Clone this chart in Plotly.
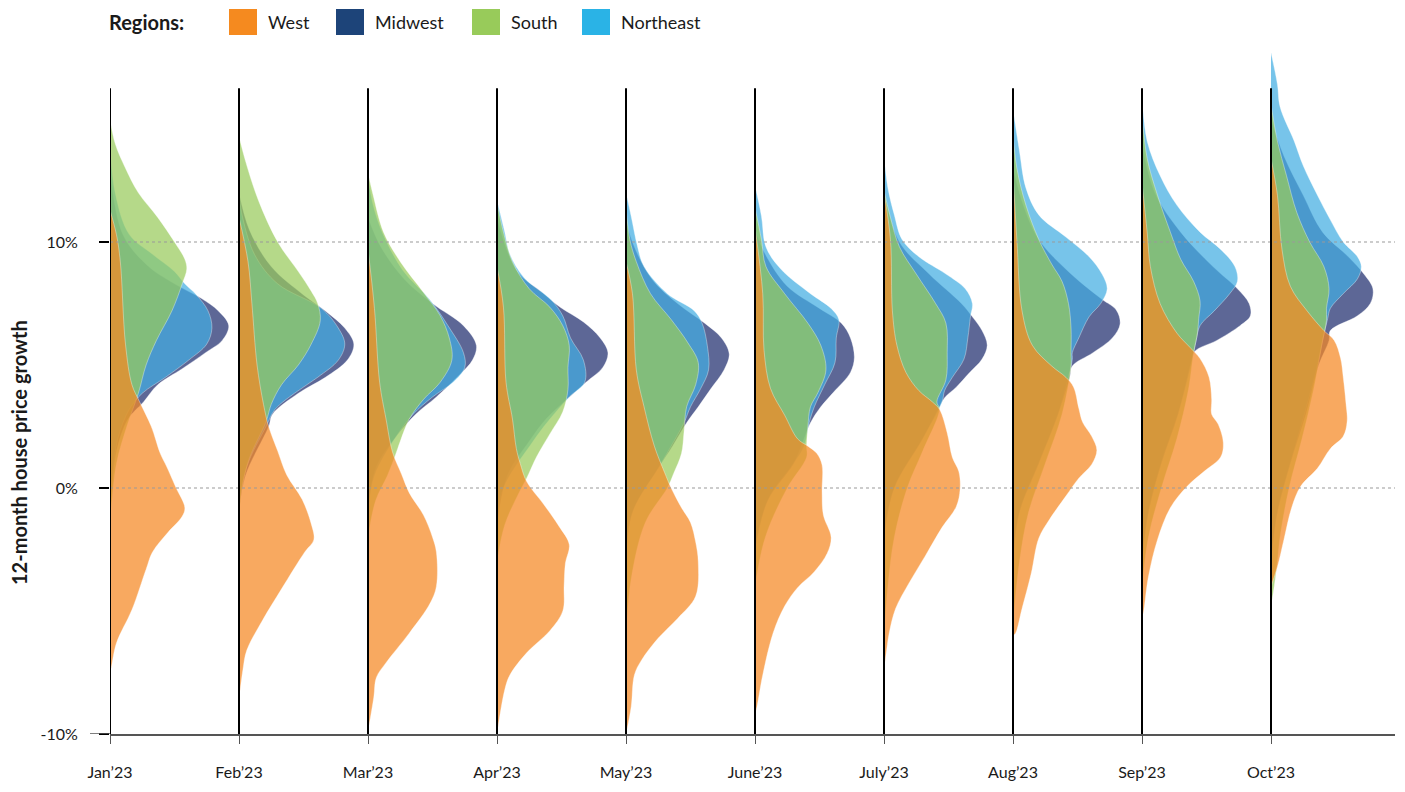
import plotly.graph_objects as go

# ---------------- data ----------------
months = ["Jan\u201923", "Feb\u201923", "Mar\u201923", "Apr\u201923", "May\u201923",
          "June\u201923", "July\u201923", "Aug\u201923", "Sep\u201923", "Oct\u201923"]
regions = ["Midwest", "Northeast", "South", "West"]          # drawing order (bottom -> top)
legend_order = ["West", "Midwest", "South", "Northeast"]
y_ticks = [-10, 0, 10]
y_tick_text = ["-10%", "0%", "10%"]

# density profiles: (12-month growth %, relative density width)
west = [
    [(-7.5,0),(-7.3,0.01),(-6.3,0.05),(-4.95,0.17),(-3.3,0.28),(-2.6,0.33),(-1.8,0.45),(-1.15,0.56),(-0.8,0.58),(0.03,0.51),(0.86,0.44),(1.4,0.39),(2.5,0.32),(3.5,0.23),(4.2,0.17),(5.85,0.12),(9.2,0.08),(10.3,0.05),(11.3,0)],
    [(-8.6,0),(-7.4,0.03),(-6.6,0.06),(-5.4,0.18),(-4.1,0.33),(-2.6,0.51),(-2.1,0.58),(-1.46,0.56),(-0.47,0.49),(0.53,0.37),(1.5,0.30),(2.5,0.23),(3.4,0.19),(5.0,0.14),(7.5,0.10),(9.2,0.07),(11.0,0)],
    [(-9.9,0),(-8.5,0.045),(-7.7,0.065),(-7.1,0.14),(-5.9,0.32),(-4.7,0.48),(-4.0,0.53),(-2.6,0.53),(-2.0,0.50),(-1.1,0.43),(-0.2,0.32),(0.56,0.26),(1.46,0.19),(2.8,0.14),(4.3,0.09),(7.3,0.05),(9.7,0)],
    [(-10,0),(-8.2,0.06),(-7.6,0.10),(-6.7,0.23),(-5.8,0.41),(-5.0,0.51),(-3.97,0.52),(-3.06,0.53),(-2.3,0.56),(-1.55,0.48),(-0.65,0.36),(0.26,0.23),(1.0,0.18),(1.6,0.15),(2.8,0.12),(4.3,0.07),(7.35,0.05),(9.0,0)],
    [(-10,0),(-8.9,0.04),(-7.6,0.065),(-7.0,0.12),(-6.1,0.25),(-5.3,0.40),(-4.4,0.54),(-3.0,0.56),(-2.2,0.54),(-1.4,0.50),(-0.8,0.43),(0,0.35),(0.62,0.30),(1.7,0.22),(3.3,0.14),(4.8,0.08),(7.9,0.05),(9.2,0)],
    [(-9.2,0),(-8.9,0.015),(-7.6,0.06),(-5.9,0.14),(-4.8,0.23),(-4.05,0.33),(-3.4,0.46),(-2.65,0.56),(-2.0,0.59),(-1.1,0.53),(-0.16,0.52),(0.93,0.52),(1.4,0.48),(1.7,0.41),(2.0,0.33),(2.96,0.23),(4.05,0.12),(5.6,0.07),(7.9,0.06),(10.6,0)],
    [(-7.4,0),(-6.6,0.02),(-5.9,0.04),(-4.9,0.09),(-3.9,0.19),(-2.76,0.32),(-1.6,0.45),(-0.76,0.56),(-0.04,0.59),(0.67,0.58),(1.24,0.53),(2.24,0.49),(3.2,0.43),(3.5,0.375),(3.96,0.27),(4.7,0.17),(5.8,0.10),(7.2,0.065),(10.1,0.05),(12.0,0)],
    [(-6.0,0),(-5.9,0.02),(-4.9,0.07),(-3.5,0.14),(-2.04,0.20),(-1.3,0.28),(-0.33,0.41),(0.4,0.51),(0.96,0.61),(1.53,0.65),(2.1,0.61),(2.67,0.54),(3.24,0.51),(4.1,0.47),(4.5,0.41),(4.96,0.30),(5.8,0.15),(7.2,0.07),(10.1,0.03),(12.8,0)],
    [(-5.3,0),(-5.0,0.013),(-3.6,0.05),(-2.1,0.12),(-0.8,0.22),(0.07,0.35),(0.67,0.48),(1.26,0.61),(1.85,0.63),(2.6,0.59),(3.0,0.54),(3.6,0.54),(4.5,0.52),(5.26,0.45),(5.7,0.375),(6.3,0.27),(7.5,0.14),(9.0,0.065),(10.4,0.04),(12.4,0)],
    [(-4.0,0),(-3.2,0.05),(-2.1,0.10),(-0.8,0.16),(0.07,0.23),(0.8,0.36),(1.6,0.46),(2.1,0.56),(2.7,0.59),(3.5,0.58),(4.5,0.56),(5.26,0.54),(6.0,0.49),(6.4,0.41),(7.2,0.28),(8.2,0.15),(9.7,0.085),(11.9,0.05),(13.4,0)],
]
south = [
    [(-1.2,0),(-0.5,0.015),(1.0,0.05),(2.5,0.13),(3.85,0.22),(5.0,0.28),(6.0,0.36),(7.2,0.48),(8.3,0.56),(8.9,0.595),(9.3,0.58),(10.0,0.50),(11.0,0.37),(12.0,0.22),(13.0,0.12),(14.0,0.04),(15.0,0)],
    [(-1.5,0),(-0.1,0.02),(1.2,0.08),(2.7,0.21),(3.4,0.25),(4.2,0.33),(5.0,0.46),(5.85,0.56),(6.8,0.63),(7.5,0.61),(8.0,0.56),(8.8,0.46),(10.0,0.30),(11.7,0.15),(13.3,0.05),(14.3,0)],
    [(-2.0,0),(-0.5,0.06),(0.5,0.15),(1.3,0.21),(1.9,0.25),(2.8,0.32),(3.6,0.43),(4.3,0.56),(5.2,0.65),(6.1,0.63),(7.0,0.56),(7.95,0.43),(9.2,0.25),(10.4,0.12),(11.9,0.04),(12.8,0)],
    [(-3.0,0),(-1.5,0.06),(-0.2,0.17),(0.4,0.23),(1.3,0.31),(2.2,0.41),(3.1,0.51),(4.0,0.55),(4.9,0.55),(5.8,0.56),(6.6,0.51),(7.35,0.41),(8.1,0.25),(9.2,0.12),(10.4,0.05),(11.6,0)],
    [(-6.0,0),(-3.7,0.04),(-1.4,0.15),(0,0.32),(0.6,0.37),(1.4,0.43),(2.3,0.45),(3.3,0.47),(4.2,0.54),(5.1,0.56),(5.9,0.48),(6.85,0.35),(7.9,0.19),(9.2,0.08),(10.1,0.03),(11.4,0)],
    [(-4.0,0),(-2.0,0.08),(0,0.25),(1.25,0.40),(1.7,0.40),(2.5,0.41),(3.3,0.43),(3.9,0.49),(4.8,0.55),(5.8,0.51),(6.7,0.41),(7.9,0.23),(9.0,0.085),(10.1,0.05),(11.4,0)],
    [(-6.0,0),(-4.0,0.03),(-2.0,0.08),(0,0.18),(1.5,0.30),(3.2,0.43),(3.5,0.41),(4.4,0.48),(5.5,0.49),(6.7,0.48),(7.5,0.40),(8.7,0.25),(9.8,0.12),(11.0,0.05),(12.1,0)],
    [(-5.5,0),(-3.0,0.05),(-1.0,0.12),(1.0,0.25),(3.0,0.38),(4.96,0.45),(5.5,0.45),(6.5,0.45),(7.5,0.43),(8.4,0.38),(9.1,0.30),(10.1,0.20),(11.5,0.10),(13.0,0.03),(14.4,0)],
    [(-4.0,0),(-2.0,0.05),(0,0.15),(2.0,0.27),(4.0,0.36),(5.5,0.40),(6.3,0.43),(6.9,0.44),(7.6,0.45),(8.4,0.40),(9.3,0.30),(10.4,0.22),(11.9,0.12),(13.4,0.04),(15.2,0)],
    [(-4.8,0),(-4.0,0.025),(-3.0,0.05),(-2.0,0.07),(0,0.14),(2.0,0.24),(4.0,0.33),(6.0,0.40),(6.8,0.43),(7.3,0.43),(8.1,0.45),(9.0,0.41),(10.0,0.30),(11.2,0.20),(12.7,0.12),(14.1,0.05),(15.6,0)],
]
northeast = [
    [(-0.5,0),(0.5,0.02),(2.0,0.06),(3.2,0.15),(3.85,0.25),(4.5,0.43),(5.2,0.61),(5.85,0.75),(6.5,0.79),(7.2,0.76),(7.85,0.67),(8.3,0.58),(8.8,0.50),(9.5,0.33),(10.3,0.15),(12.0,0.04),(14.1,0)],
    [(-0.8,0),(0.86,0.06),(2.5,0.21),(3.2,0.28),(3.85,0.43),(4.5,0.61),(5.2,0.77),(5.85,0.82),(6.5,0.77),(7.3,0.64),(8.3,0.30),(9.5,0.12),(11.2,0.02),(12.0,0)],
    [(-1.0,0),(0.5,0.05),(2.1,0.22),(3.0,0.35),(3.7,0.50),(4.3,0.66),(4.9,0.75),(5.5,0.74),(6.6,0.62),(7.65,0.48),(8.85,0.27),(10.4,0.11),(11.5,0.04),(12.6,0)],
    [(-1.4,0),(0.0,0.05),(1.9,0.28),(2.8,0.41),(3.7,0.56),(4.3,0.68),(5.2,0.67),(6.1,0.57),(7.0,0.51),(7.65,0.42),(8.55,0.21),(9.5,0.10),(10.4,0.06),(11.7,0)],
    [(-3.0,0),(-1.0,0.05),(0.8,0.25),(1.7,0.35),(2.65,0.45),(3.3,0.50),(4.05,0.58),(4.8,0.64),(5.8,0.63),(6.7,0.59),(7.2,0.53),(7.9,0.32),(9.0,0.14),(9.8,0.09),(11.05,0.04),(12.0,0)],
    [(-2.5,0),(-0.5,0.10),(1.0,0.30),(1.7,0.38),(2.65,0.42),(3.3,0.46),(4.2,0.54),(5.1,0.62),(6.1,0.63),(6.85,0.65),(7.3,0.59),(7.9,0.43),(8.9,0.20),(9.8,0.085),(11.05,0.05),(12.3,0)],
    [(-2.0,0),(0,0.08),(2.0,0.30),(3.5,0.45),(3.96,0.47),(4.5,0.53),(5.24,0.62),(6.1,0.65),(6.96,0.67),(7.5,0.685),(8.1,0.63),(8.7,0.48),(9.4,0.27),(10.1,0.14),(11.1,0.08),(12.2,0.03),(13.5,0)],
    [(-3.0,0),(-1.0,0.05),(1.0,0.20),(3.0,0.35),(4.5,0.43),(5.24,0.46),(5.5,0.46),(6.1,0.51),(6.96,0.59),(7.5,0.68),(8.1,0.73),(8.7,0.69),(9.4,0.59),(10.2,0.41),(11.1,0.20),(12.2,0.10),(13.7,0.05),(15.4,0)],
    [(-3.0,0),(-1.0,0.05),(1.0,0.15),(3.0,0.28),(5.0,0.38),(6.0,0.42),(6.6,0.45),(7.2,0.56),(7.9,0.68),(8.4,0.74),(9.0,0.72),(9.7,0.61),(10.4,0.45),(11.5,0.27),(12.7,0.14),(14.1,0.04),(15.9,0)],
    [(-3.0,0),(-1.0,0.05),(1.0,0.15),(3.0,0.26),(5.0,0.36),(6.0,0.40),(6.9,0.44),(7.3,0.46),(7.9,0.56),(8.5,0.67),(9.0,0.70),(9.4,0.67),(10.0,0.56),(10.9,0.46),(11.9,0.36),(13.1,0.25),(14.1,0.18),(15.5,0.07),(16.4,0.05),(17.7,0)],
]
midwest = [
    [(-1.0,0),(0.0,0.015),(1.5,0.05),(2.8,0.14),(3.5,0.26),(4.2,0.37),(4.85,0.56),(5.5,0.74),(6.0,0.87),(6.6,0.92),(7.2,0.84),(7.7,0.71),(8.3,0.50),(9.0,0.30),(10.3,0.10),(13.0,0)],
    [(-1.0,0),(0.5,0.05),(2.5,0.23),(3.0,0.26),(3.85,0.46),(4.5,0.67),(5.2,0.84),(5.85,0.89),(6.5,0.82),(7.2,0.67),(7.85,0.50),(9.0,0.25),(10.5,0.08),(12.0,0)],
    [(-1.0,0),(0.8,0.06),(2.1,0.22),(3.0,0.37),(3.7,0.53),(4.6,0.71),(5.2,0.81),(5.8,0.84),(6.6,0.74),(7.5,0.50),(8.5,0.28),(9.8,0.10),(11.0,0)],
    [(-1.5,0),(0.5,0.08),(1.9,0.25),(2.8,0.38),(3.6,0.54),(4.3,0.69),(4.9,0.82),(5.5,0.86),(6.1,0.80),(6.75,0.67),(7.35,0.49),(7.95,0.35),(8.85,0.15),(11.0,0)],
    [(-3.0,0),(-1.0,0.05),(0.8,0.25),(1.7,0.36),(2.65,0.47),(3.3,0.56),(4.05,0.66),(4.8,0.76),(5.45,0.80),(6.1,0.74),(6.7,0.61),(7.5,0.40),(8.5,0.20),(10.0,0.05),(11.0,0)],
    [(-2.5,0),(-0.5,0.10),(1.0,0.30),(2.0,0.38),(2.65,0.43),(3.3,0.51),(3.9,0.61),(4.7,0.74),(5.3,0.77),(6.1,0.74),(6.7,0.67),(7.3,0.50),(8.2,0.25),(9.5,0.08),(10.5,0)],
    [(-2.0,0),(0,0.08),(2.0,0.30),(3.2,0.42),(3.67,0.47),(4.1,0.56),(4.67,0.66),(5.24,0.76),(5.8,0.80),(6.4,0.76),(6.96,0.685),(7.5,0.60),(8.7,0.35),(10.0,0.12),(12.0,0)],
    [(-3.0,0),(-1.0,0.05),(1.0,0.20),(3.0,0.35),(4.5,0.44),(4.96,0.46),(5.5,0.62),(6.1,0.77),(6.67,0.83),(7.24,0.80),(7.67,0.69),(8.7,0.45),(10.1,0.20),(11.5,0.08),(13.0,0)],
    [(-3.0,0),(-1.0,0.05),(1.0,0.15),(3.0,0.28),(5.1,0.38),(5.56,0.41),(6.0,0.58),(6.6,0.76),(7.0,0.84),(7.5,0.83),(8.1,0.74),(9.0,0.55),(10.4,0.30),(12.0,0.10),(14.0,0)],
    [(-3.0,0),(-1.0,0.05),(1.0,0.15),(3.0,0.27),(5.0,0.37),(6.0,0.45),(6.4,0.46),(7.0,0.67),(7.5,0.77),(8.1,0.79),(8.7,0.72),(9.4,0.60),(10.4,0.40),(11.9,0.25),(13.5,0.10),(15.0,0)],
]

# ---------------- styling ----------------
profiles = {"West": west, "South": south, "Northeast": northeast, "Midwest": midwest}
solid = {"West": "#F58A1F", "Midwest": "#1D4479", "South": "#98CB5A", "Northeast": "#2AB3E6"}
fills = {"West": "rgba(245,136,34,0.72)", "Midwest": "rgba(31,44,110,0.72)",
         "South": "rgba(152,202,92,0.72)", "Northeast": "rgba(67,173,226,0.72)"}
FONT = "Lato, 'Open Sans', sans-serif"
TXT = "#1a1a1a"
LINE_TOP = 16.25

# The page has an 8px body margin, so the figure sits at (8, 8) in the window.
OFF = 8
W, H = 1405 - 2 * OFF, 792 - 2 * OFF
PLOT_L, PLOT_R, PLOT_T, PLOT_B = 110, 1395, 33, 734     # wanted plot box, page pixels
ML = PLOT_L - OFF
MR = W - (PLOT_R - OFF)
MT = PLOT_T - OFF
MB = H - (PLOT_B - OFF)
PW, PH = PLOT_R - PLOT_L, PLOT_B - PLOT_T
UNIT = 129.0                                             # px per month
PX_PER_PCT = 24.6
X_RANGE = [0, PW / UNIT]
Y_RANGE = [-10, -10 + PH / PX_PER_PCT]


def px_x(px):
    return (px - PLOT_L) / PW


def px_y(py):
    return (PLOT_B - py) / PH


fig = go.Figure()
for i, _m in enumerate(months):
    for reg in regions:
        prof = profiles[reg][i]
        ys = [p[0] for p in prof]
        ws = [i + p[1] for p in prof]
        fig.add_trace(go.Scatter(x=[i, i], y=[ys[0], ys[-1]], mode="lines",
                                 line=dict(width=0, color="rgba(0,0,0,0)"),
                                 showlegend=False, hoverinfo="skip"))
        fig.add_trace(go.Scatter(x=ws, y=ys, mode="lines", fill="tonextx",
                                 fillcolor=fills[reg],
                                 line=dict(shape="spline", smoothing=1.0, width=0.8,
                                           color="rgba(255,255,255,0.45)"),
                                 name=reg, showlegend=False, hoverinfo="skip"))

shapes = []
# dotted reference lines
for yv in [0, 10]:
    shapes.append(dict(type="line", xref="x", yref="y", x0=0, x1=(1397 - PLOT_L) / UNIT,
                       y0=yv, y1=yv,
                       line=dict(color="#9a9a9a", width=1.2, dash="dot"), layer="above"))
# month baselines
for i in range(len(months)):
    shapes.append(dict(type="line", xref="x", yref="y", x0=i, x1=i, y0=Y_RANGE[0], y1=LINE_TOP,
                       line=dict(color="black", width=2), layer="above"))
# axis extension to the left
shapes.append(dict(type="line", xref="paper", yref="y", x0=px_x(90), x1=0, y0=-10, y1=-10,
                   line=dict(color="#555", width=1.5), layer="above"))

annotations = []
# legend
annotations.append(dict(text="<b>Regions:</b>", xref="paper", yref="paper",
                        x=px_x(107), y=px_y(22), xanchor="left", yanchor="middle",
                        showarrow=False, font=dict(family=FONT, size=20, color=TXT)))
sw_left = {"West": 229, "Midwest": 336, "South": 472, "Northeast": 582}
for reg in legend_order:
    x0 = sw_left[reg]
    shapes.append(dict(type="rect", xref="paper", yref="paper",
                       x0=px_x(x0), x1=px_x(x0 + 28), y0=px_y(35), y1=px_y(9),
                       fillcolor=solid[reg], line=dict(width=0)))
    annotations.append(dict(text=reg, xref="paper", yref="paper",
                            x=px_x(x0 + 37), y=px_y(22), xanchor="left", yanchor="middle",
                            showarrow=False, font=dict(family=FONT, size=18, color=TXT)))
# y-axis title
annotations.append(dict(text="<b>12-month house price growth</b>", xref="paper", yref="paper",
                        x=px_x(19), y=px_y(453), xanchor="center", yanchor="middle",
                        textangle=-90, showarrow=False,
                        font=dict(family=FONT, size=20, color=TXT)))

fig.update_layout(
    width=W, height=H,
    margin=dict(l=ML, r=MR, t=MT, b=MB, pad=0, autoexpand=False),
    paper_bgcolor="white", plot_bgcolor="white",
    font=dict(family=FONT, color=TXT),
    showlegend=False,
    shapes=shapes, annotations=annotations,
    xaxis=dict(range=X_RANGE, tickvals=list(range(len(months))), ticktext=months,
               automargin=False,
               showgrid=False, zeroline=False, showline=True, linecolor="#555", linewidth=1.5,
               ticks="outside", ticklen=8, tickwidth=1, tickcolor="#555",
               ticklabelstandoff=15, tickfont=dict(family=FONT, size=16, color=TXT),
               fixedrange=True),
    yaxis=dict(range=Y_RANGE, tickvals=y_ticks, ticktext=y_tick_text,
               automargin=False,
               showgrid=False, zeroline=False, showline=False,
               ticks="outside", ticklen=10, tickwidth=2, tickcolor="black",
               ticklabelstandoff=18, tickfont=dict(family=FONT, size=16, color=TXT),
               fixedrange=True),
)

fig.write_html("out.html")
